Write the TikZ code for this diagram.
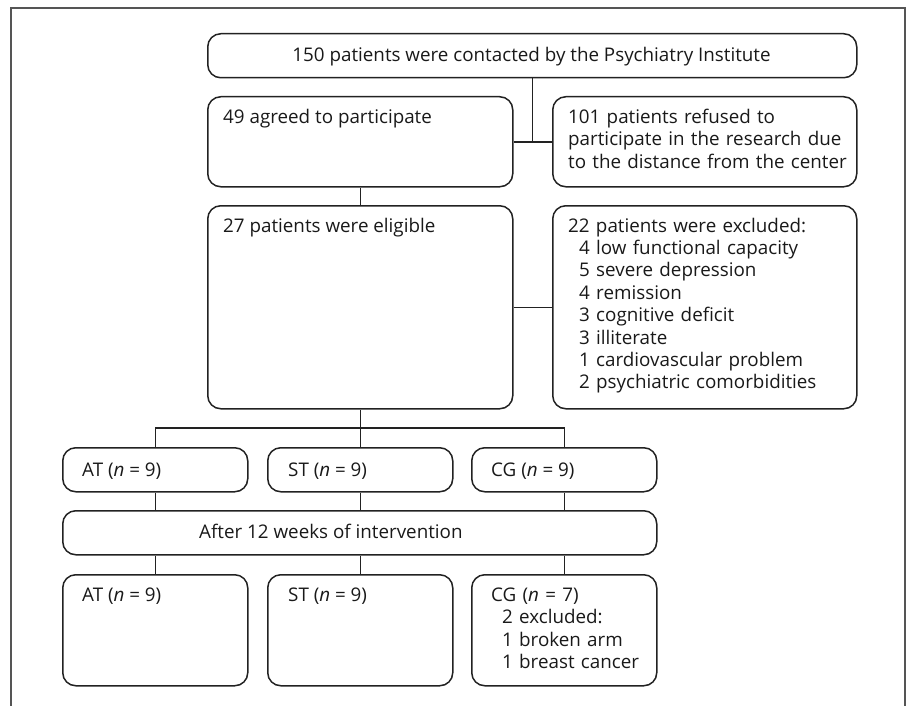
\documentclass[tikz,border=0pt]{standalone}
\usepackage{fontspec}
\setmainfont{Open Sans}

\definecolor{linecol}{HTML}{222222}
\definecolor{framecol}{HTML}{555555}
\newcommand{\fs}{\fontsize{18.8}{22.4}\selectfont}
\newcommand{\ind}{\hspace*{11pt}}

\begin{document}
\begin{tikzpicture}[x=1pt,y=-1pt,
  box/.style={draw=linecol, line width=1.5pt, rounded corners=13pt, inner sep=0pt, anchor=north west},
  txt/.style={font=\fs, text=black!90, inner sep=0pt, anchor=base west, align=left},
  multi/.style={txt, text width=300pt},
  link/.style={draw=linecol, line width=1.5pt}]

\useasboundingbox (0,0) rectangle (912,706);
\draw[framecol, line width=1.1pt] (11,706) -- (11,8) -- (905,8) -- (905,706);

% boxes
\node[box, minimum width=649pt, minimum height=44pt] (contact) at (207,33) {};
\node[box, minimum width=305pt, minimum height=90pt] (agree) at (207,96) {};
\node[box, minimum width=304pt, minimum height=90pt] (refuse) at (552,96) {};
\node[box, minimum width=305pt, minimum height=203pt] (elig) at (207,205) {};
\node[box, minimum width=304pt, minimum height=203pt] (excl) at (552,205) {};

\node[box, minimum width=185pt, minimum height=44pt] (at1) at (62,447) {};
\node[box, minimum width=185pt, minimum height=44pt] (st1) at (267,447) {};
\node[box, minimum width=185pt, minimum height=44pt] (cg1) at (471,447) {};
\node[box, minimum width=594pt, minimum height=44pt] (after) at (62,510) {};
\node[box, minimum width=185pt, minimum height=111pt] (at2) at (62,574) {};
\node[box, minimum width=185pt, minimum height=111pt] (st2) at (267,574) {};
\node[box, minimum width=185pt, minimum height=111pt] (cg2) at (471,574) {};

% texts
\node[txt, anchor=base] (contacttxt) at (531.5,62) {150 patients were contacted by the Psychiatry Institute};
\node[txt] (agreetxt) at (223,123.5) {49 agreed to participate};
\node[multi] (refusetxt) at (568,123.5) {101 patients refused to\\participate in the research due\\to the distance from the center};
\node[txt] (eligtxt) at (223,232) {27 patients were eligible};
\node[multi] (excltxt) at (568,232) {22 patients were excluded:\\\ind 4 low functional capacity\\\ind 5 severe depression\\\ind 4 remission\\\ind 3 cognitive deficit\\\ind 3 illiterate\\\ind 1 cardiovascular problem\\\ind 2 psychiatric comorbidities};

\node[txt] (at1txt) at (82,476) {AT (\textit{n} = 9)};
\node[txt] (st1txt) at (288,476) {ST (\textit{n} = 9)};
\node[txt] (cg1txt) at (491,476) {CG (\textit{n} = 9)};
\node[txt] (aftertxt) at (199,538) {After 12 weeks of intervention};
\node[txt] (at2txt) at (82,601.5) {AT (\textit{n} = 9)};
\node[txt] (st2txt) at (288,601.5) {ST (\textit{n} = 9)};
\node[multi] (cg2txt) at (491,601.5) {CG (\textit{n} = 7)\\\ind 2 excluded:\\\ind 1 broken arm\\\ind 1 breast cancer};

% connectors
\draw[link] (contact.south) -- (contact.south |- agree.east);
\draw[link] (agree.east) -- (refuse.west);
\draw[link] (agree.south) -- (elig.north);
\draw[link] (elig.east) -- (excl.west);
\coordinate (split) at ([yshift=-18.7pt]elig.south);
\draw[link] (elig.south) -- (st1.north);
\draw[link] (at1.north) |- (split) -| (cg1.north);
\foreach \g in {at,st,cg} {
  \draw[link] (\g1.south) -- (\g1.south |- after.north);
  \draw[link] (\g2.north |- after.south) -- (\g2.north);
}

\end{tikzpicture}
\end{document}
